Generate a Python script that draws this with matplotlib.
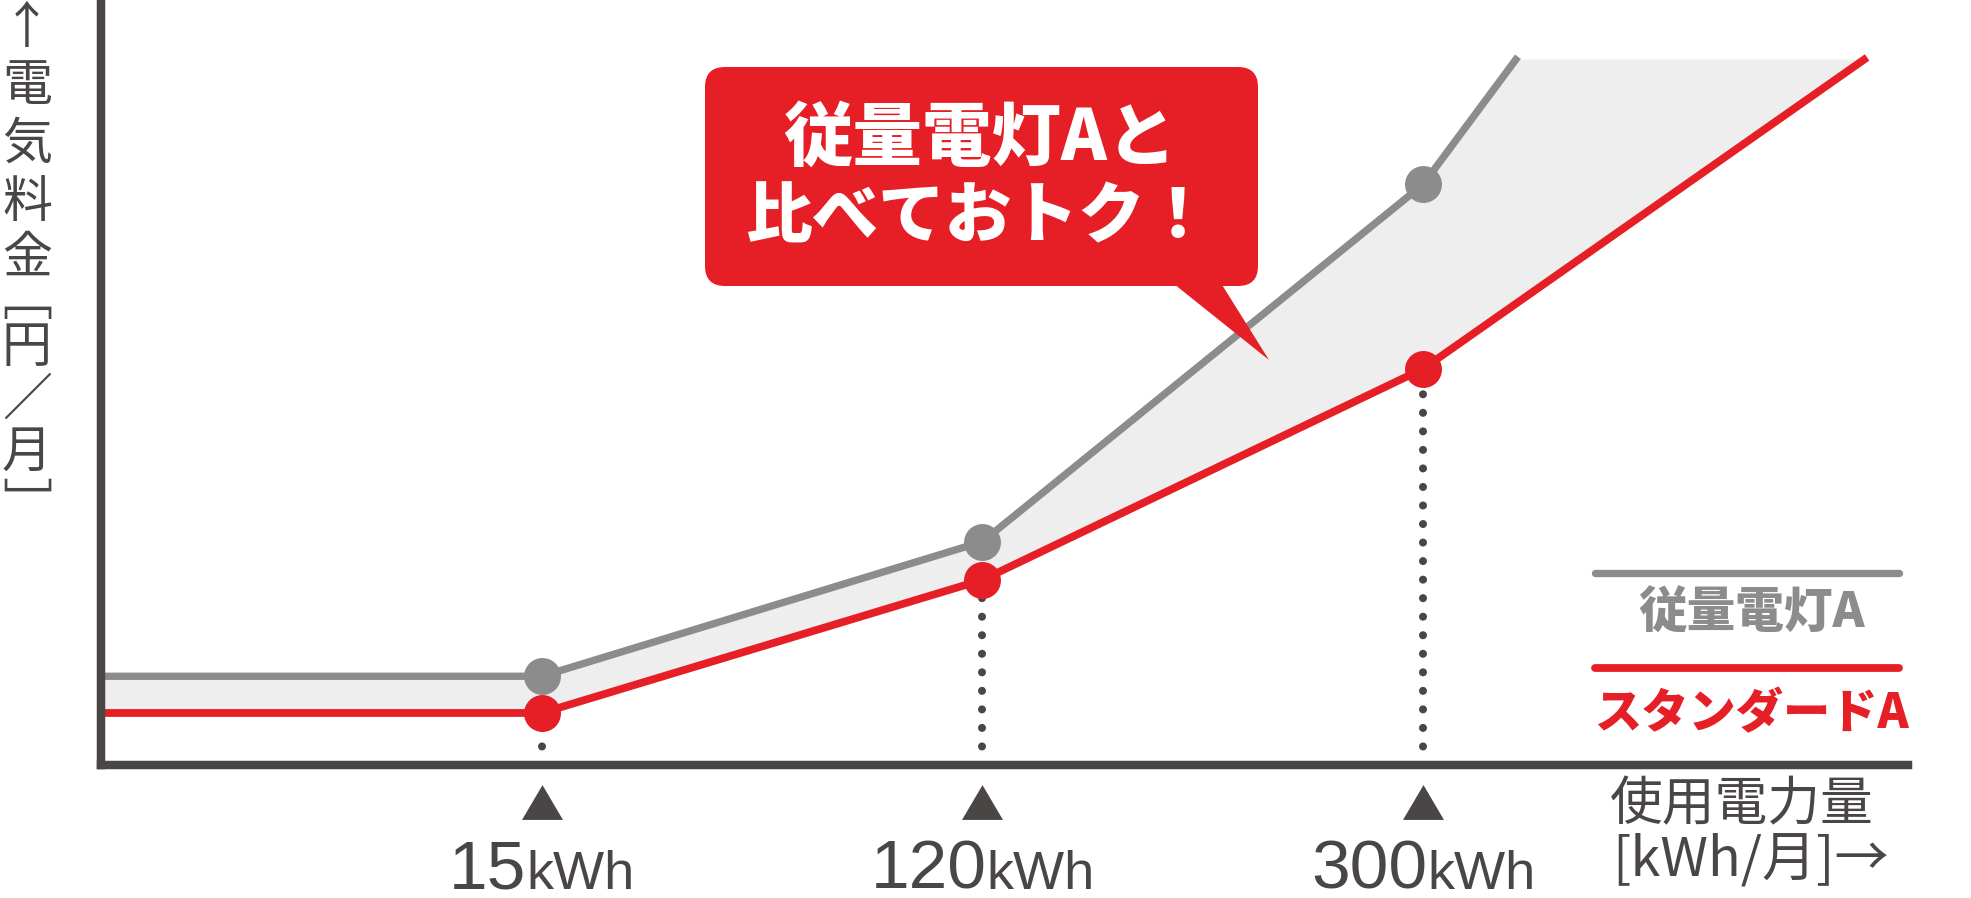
import numpy as np
import matplotlib
matplotlib.use('Agg')
import matplotlib.pyplot as plt
import matplotlib.transforms as mtransforms
from matplotlib.patches import FancyBboxPatch, Polygon

"""data: x = tick slot (schematic axis), y = relative monthly charge"""
tick_pos = [1, 2, 3]
tick_num = ['15', '120', '300']
tick_unit = 'kWh'

juryo_x = [0, 1, 2, 3, 3.21]
juryo_y = [11.6, 11.6, 29.2, 75.9, 92.2]
std_x = [0, 1, 2, 3, 4.0]
std_y = [6.8, 6.8, 24.2, 51.8, 92.2]

label_juryo = '従量電灯A'
label_std = 'スタンダードA'
# vertical presentation forms for the brackets
ylabel_chars = ['↑', '電', '気', '料', '金', '﹇', '円', '／', '月', '﹈']
xlabel_1 = '使用電力量'
xlabel_2 = '[kWh/月]→'
callout_lines = ['従量電灯Aと', '比べておトク！']

"""styles"""
RED = '#e61e25'
GRAY = '#8c8c8c'
FILLC = '#eeeeee'
DARK = '#4a4646'
cjk = ['Noto Sans CJK JP', 'DejaVu Sans']
latin = ['Liberation Sans', 'DejaVu Sans']

W, H = 1971, 898
fig = plt.figure(figsize=(W/100, H/100), dpi=100)
ax = fig.add_axes([101/W, 133/H, 1807/W, 765/H])
ax.set_xlim(0, 4.10)
ax.set_ylim(0, 100)
ax.set_xticks([])
ax.set_yticks([])
for s in ['top', 'right']:
    ax.spines[s].set_visible(False)
for s in ['left', 'bottom']:
    ax.spines[s].set_linewidth(6.1)
    ax.spines[s].set_color(DARK)
    ax.spines[s].set_capstyle('projecting')
    ax.spines[s].set_zorder(5)

# shaded gap between the two plans
poly = list(zip(juryo_x, juryo_y)) + [(std_x[-1], std_y[-1])] + list(zip(std_x, std_y))[::-1]
ax.add_patch(Polygon(poly, closed=True, fc=FILLC, ec='none', zorder=1))

# dotted drop lines from the standard-A points
for t in tick_pos:
    yv = std_y[std_x.index(t)]
    ax.plot([t, t], [0, yv], color=DARK, lw=5.8, linestyle=(0, (0.001, 2.3)),
            dash_capstyle='round', zorder=2, clip_on=False)

ax.plot(juryo_x, juryo_y, color=GRAY, lw=5.3, zorder=3, clip_on=False)
ax.plot(std_x, std_y, color=RED, lw=5.6, zorder=3, clip_on=False)
mk = [std_x.index(t) for t in tick_pos]
ax.plot([juryo_x[i] for i in mk], [juryo_y[i] for i in mk], 'o', ms=26.6, color=GRAY, mec='none', zorder=4)
ax.plot([std_x[i] for i in mk], [std_y[i] for i in mk], 'o', ms=26.6, color=RED, mec='none', zorder=4)

# triangles + tick labels under the axis
trans = mtransforms.blended_transform_factory(ax.transData, ax.transAxes)
tri = [(-1, -0.85), (1, -0.85), (0, 0.85)]
ax.plot(tick_pos, [-0.0484]*len(tick_pos), linestyle='none', marker=tri, ms=29.5,
        color=DARK, mec='none', transform=trans, clip_on=False)

lbls = []
for t, n in zip(tick_pos, tick_num):
    a = ax.text(t, -0.162, n, ha='right', va='baseline', fontsize=50, family=latin,
                color=DARK, transform=trans, clip_on=False)
    b = ax.text(t, -0.162, tick_unit, ha='left', va='baseline', fontsize=39, family=latin,
                color=DARK, transform=trans, clip_on=False)
    lbls.append((a, b))

"""overlay in pixel coords for annotations"""
ov = fig.add_axes([0, 0, 1, 1])
ov.set_xlim(0, W)
ov.set_ylim(H, 0)
ov.set_axis_off()

# callout
ov.add_patch(FancyBboxPatch((705, 67), 553, 219, boxstyle='round,pad=0,rounding_size=20',
                            fc=RED, ec='none'))
ov.add_patch(Polygon([(1169, 280), (1219, 280), (1269, 360)], closed=True, fc=RED, ec='none'))
ov.text(980, 139, callout_lines[0], ha='center', va='center', fontsize=50, weight='heavy',
        color='white', family=cjk)
ov.text(978, 218, callout_lines[1], ha='center', va='center', fontsize=48, weight='heavy',
        color='white', family=cjk)

# legend
ov.plot([1595, 1899], [573, 573], color=GRAY, lw=5.3, solid_capstyle='round')
ov.text(1752, 614, label_juryo, ha='center', va='center', fontsize=35, weight='heavy',
        color=GRAY, family=cjk)
ov.plot([1595, 1899], [668, 668], color=RED, lw=5.6, solid_capstyle='round')
ov.text(1751, 714, label_std, ha='center', va='center', fontsize=34, weight='heavy',
        color=RED, family=cjk)

# axis labels
ov.text(1610, 805, xlabel_1, ha='left', va='center', fontsize=38, color=DARK, family=cjk)
ov.text(1612, 860, xlabel_2, ha='left', va='center', fontsize=39, color=DARK, family=cjk)

# vertical y label, one glyph per row (bracket forms sit off-centre in their cells)
ycent = [29, 86, 145, 203, 259, 301, 348, 401, 453, 507]
for ch, yc in zip(ylabel_chars, ycent):
    ov.text(27, yc, ch, ha='center', va='center', fontsize=36, color=DARK, family=cjk)

# center the number+unit tick labels on their tick
fig.canvas.draw()
r = fig.canvas.get_renderer()
for a, b in lbls:
    dx = (a.get_window_extent(r).width - b.get_window_extent(r).width) / 2
    off = mtransforms.offset_copy(trans, fig=fig, x=dx, units='dots')
    a.set_transform(off)
    b.set_transform(off)

fig.savefig('out.png', dpi=100)
